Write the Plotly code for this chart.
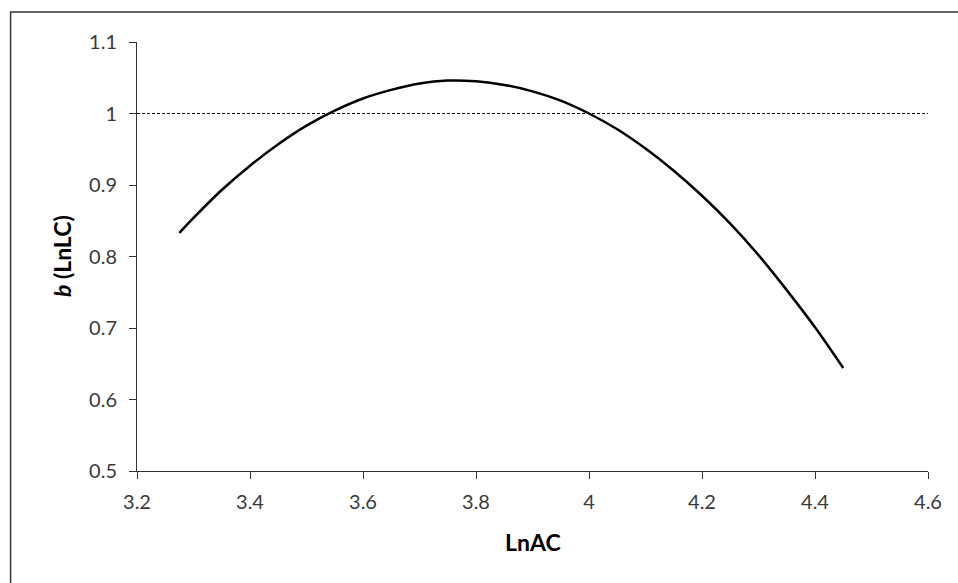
import plotly.graph_objects as go

# LnAC values (x) and b (LnLC) values (y)
ln_ac = [3.275, 3.30, 3.35, 3.40, 3.45, 3.50, 3.55, 3.60, 3.65, 3.70, 3.75, 3.80,
         3.85, 3.90, 3.95, 4.00, 4.05, 4.10, 4.15, 4.20, 4.25, 4.30, 4.35, 4.40, 4.45]
b_lnlc = [0.833, 0.854, 0.893, 0.927, 0.957, 0.983, 1.004, 1.021, 1.033, 1.042, 1.046, 1.045,
          1.040, 1.031, 1.018, 1.000, 0.978, 0.951, 0.920, 0.885, 0.846, 0.802, 0.753, 0.701, 0.644]

ref_x = [3.2, 4.6]
ref_y = [1.0, 1.0]

x_ticks = [3.2, 3.4, 3.6, 3.8, 4.0, 4.2, 4.4, 4.6]
x_labels = ["3.2", "3.4", "3.6", "3.8", "4", "4.2", "4.4", "4.6"]
y_ticks = [0.5, 0.6, 0.7, 0.8, 0.9, 1.0, 1.1]
y_labels = ["0.5", "0.6", "0.7", "0.8", "0.9", "1", "1.1"]

FONT = "Lato, 'Open Sans', sans-serif"

fig = go.Figure()
fig.add_trace(go.Scatter(x=ref_x, y=ref_y, mode="lines",
                         line=dict(color="#000000", width=1, dash="3px,2px"),
                         hoverinfo="skip", showlegend=False))
fig.add_trace(go.Scatter(x=ln_ac, y=b_lnlc, mode="lines", line_shape="spline",
                         line=dict(color="#000000", width=2.5), showlegend=False))

axis_common = dict(showgrid=False, zeroline=False, showline=True, linecolor="#333333",
                   linewidth=1, ticks="outside", ticklen=7, tickcolor="#333333", tickwidth=1,
                   tickfont=dict(family=FONT, size=20, color="#3a3a3a"))

fig.update_xaxes(range=[3.2, 4.6], tickvals=x_ticks, ticktext=x_labels,
                 ticklabelstandoff=6, **axis_common)
fig.update_yaxes(range=[0.5, 1.1], tickvals=y_ticks, ticktext=y_labels,
                 ticklabelstandoff=8, **axis_common)

fig.add_annotation(text="<b>LnAC</b>", xref="paper", yref="paper", x=0.5, y=-0.1655,
                   showarrow=False, font=dict(family=FONT, size=23, color="#000000"),
                   xanchor="center", yanchor="middle")
fig.add_annotation(text="<b><i>b</i> (LnLC)</b>", xref="paper", yref="paper", x=-0.0953, y=0.5,
                   showarrow=False, textangle=-90, font=dict(family=FONT, size=23, color="#000000"),
                   xanchor="center", yanchor="middle")

# chart frame (left and top edges visible)
fig.add_shape(type="rect", xref="paper", yref="paper", x0=-0.1598, y0=-0.5, x1=1.3, y1=1.0699,
              line=dict(color="#333333", width=1.5), fillcolor="rgba(0,0,0,0)", layer="below")

fig.update_layout(width=958, height=583, margin=dict(l=137, r=30, t=42, b=112),
                  paper_bgcolor="white", plot_bgcolor="white", showlegend=False)

fig.write_html("out.html")
